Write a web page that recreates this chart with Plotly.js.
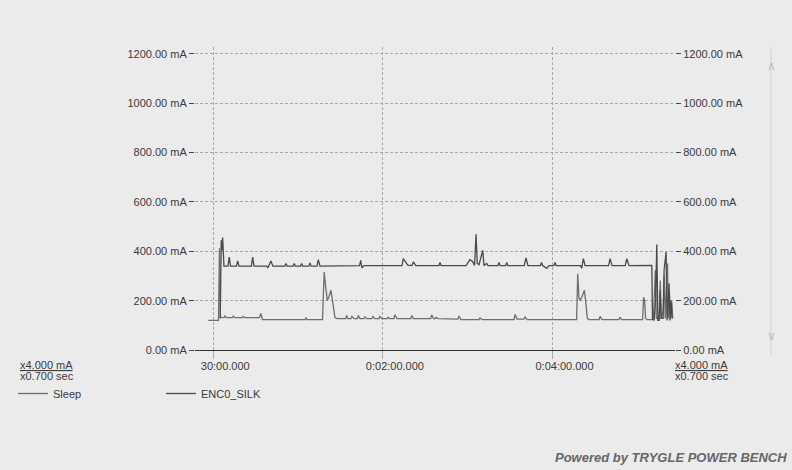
<!DOCTYPE html>
<html>
<head>
<meta charset="utf-8">
<script src="https://cdn.plot.ly/plotly-3.0.1.min.js"></script>
<style>
  html, body { margin: 0; padding: 0; background: #ebebeb; }
  #chart { width: 792px; height: 470px; }
</style>
</head>
<body>
<div id="chart"></div>
<script>
// ---- data (time in seconds, current in mA) ----
const silkTime = [4.95, 5.66, 6.16, 6.65, 7.57, 10.4, 11.3, 12.2, 16.4, 17.3, 18.2, 27.0, 27.9, 28.8, 37.8, 38.7, 40.8, 42.2,
  50.6, 51.4, 52.2, 56.5, 57.3, 58.1, 61.7, 62.5, 63.3, 67.6, 68.4, 69.2, 73.4, 74.3, 75.5, 89.6, 103.5, 104.3, 105.2, 106.6,
  133.5, 134.4, 136.3, 137.7, 140.6, 141.5, 143.4, 159.6, 160.4, 161.2, 178.8, 181.6, 183.4, 184.8, 185.9, 186.7, 188.0,
  190.6, 191.5, 193.4, 194.4, 201.3, 202.1, 202.9, 206.8, 207.6, 208.4, 220.0, 221.2, 222.6, 231.4, 232.2, 233.0, 235.9,
  237.5, 241.0, 241.8, 242.6, 259.8, 260.6, 261.8, 263.0, 279.6, 280.7, 282.1, 291.4, 292.5, 294.1, 310.2, 310.7, 311.8, 312.9,
  313.7, 314.5, 315.4, 316.1, 316.8, 318.2, 318.9, 320.3, 321.0, 321.7, 322.4, 323.1, 323.8, 324.5];
const silkMA = [128, 445, 404, 456, 340, 340, 377, 340, 340, 361, 340, 340, 377, 340, 340, 333, 361, 340,
  340, 351, 340, 340, 351, 340, 340, 351, 340, 340, 353, 340, 340, 366, 340, 342, 342, 363, 333, 342,
  342, 370, 351, 343, 343, 357, 342, 342, 355, 342, 342, 366, 359, 343, 469, 351, 346,
  404, 342, 351, 342, 342, 355, 342, 342, 355, 342, 342, 373, 342, 342, 355, 342, 331,
  342, 342, 355, 342, 342, 331, 370, 342, 342, 370, 342, 342, 370, 342, 343, 128, 120, 201,
  428, 120, 120, 242, 128, 128, 323, 397, 120, 201, 270, 120, 201, 128];

const sleepTime = [-3.5, 3.7, 4.4, 5.1, 7.6, 8.3, 9.3, 13.5, 14.2, 15.4, 20.5, 21.2, 22.4, 32.7, 33.7, 34.8,
  64.9, 65.6, 66.3, 77.3, 78.0, 78.5, 79.4, 80.7, 81.9, 83.3, 84.5, 86.1, 87.5,
  93.7, 94.4, 95.3, 97.4, 98.1, 99.5, 101.9, 102.6, 103.8, 106.6, 107.3, 108.7, 112.3, 113.0, 114.4,
  117.2, 117.9, 119.3, 122.9, 123.6, 125.0, 127.8, 128.5, 129.9, 139.7, 140.4, 141.6, 153.8, 154.5, 155.8,
  156.9, 157.6, 159.0, 173.1, 173.8, 175.2, 188.0, 188.7, 190.1, 212.8, 213.5, 214.9, 219.8, 220.5, 222.0,
  257.0, 257.8, 258.7, 259.4, 260.9, 262.5, 263.5, 264.6, 265.8, 272.9, 273.6, 275.0, 287.0, 287.7, 289.2,
  303.7, 304.4, 305.1, 305.8, 306.9, 311.3, 312.7, 313.4, 315.5, 316.2, 316.9, 318.3, 319.0, 319.7,
  321.3, 321.8, 322.7, 323.2, 324.4, 325.0];
const sleepMA = [120, 120, 412, 132, 131, 138, 131, 131, 137, 131, 131, 136, 131, 131, 148, 123,
  123, 132, 123, 123, 242, 316, 262, 201, 217, 242, 194, 131, 127,
  127, 140, 127, 127, 136, 127, 127, 140, 127, 127, 134, 127, 127, 136, 127,
  127, 136, 127, 127, 132, 127, 127, 143, 127, 127, 140, 127, 127, 142, 127,
  127, 132, 127, 125, 138, 123, 123, 130, 123, 123, 144, 125, 125, 134, 123,
  123, 309, 209, 201, 217, 242, 194, 127, 123, 123, 136, 123, 123, 131, 123,
  123, 214, 201, 128, 123, 123, 323, 128, 128, 282, 128, 160, 303, 128,
  351, 128, 229, 128, 193, 128];

const yTicks = [0, 200, 400, 600, 800, 1000, 1200];
const yTickText = ['0.00 mA', '200.00 mA', '400.00 mA', '600.00 mA', '800.00 mA', '1000.00 mA', '1200.00 mA'];
const xTickVals = [0, 120, 240];
const xTickText = ['30:00.000', '0:02:00.000', '0:04:00.000'];
const seriesNames = ['Sleep', 'ENC0_SILK'];

const FONT = 'Liberation Sans, Arial, sans-serif';
const TXT = '#3a3a3a';
const GRID = '#a8a8a8';

const traces = [
  { x: sleepTime, y: sleepMA, name: seriesNames[0], type: 'scatter', mode: 'lines',
    line: { color: '#6e6e6e', width: 1.3 }, xaxis: 'x', yaxis: 'y' },
  { x: silkTime, y: silkMA, name: seriesNames[1], type: 'scatter', mode: 'lines',
    line: { color: '#4a4a4a', width: 1.3 }, xaxis: 'x', yaxis: 'y' },
  { x: [0], y: [0], type: 'scatter', mode: 'markers', marker: { opacity: 0 },
    xaxis: 'x', yaxis: 'y2', showlegend: false, hoverinfo: 'skip' }
];

const yCommon = {
  range: [0, 1228], tickvals: yTicks, ticktext: yTickText,
  ticks: 'outside', ticklen: 5, tickcolor: '#444', tickwidth: 1,
  tickfont: { family: FONT, size: 11, color: TXT },
  zeroline: false, showline: false, fixedrange: true
};

const layout = {
  width: 792, height: 470,
  paper_bgcolor: '#ebebeb', plot_bgcolor: '#ebebeb',
  margin: { l: 195, r: 117, t: 47, b: 120, autoexpand: false },
  font: { family: FONT, size: 11, color: TXT },
  showlegend: true,
  legend: {
    orientation: 'h', x: -182/480, xanchor: 'left', y: -29/303, yanchor: 'top',
    xref: 'paper', yref: 'paper',
    entrywidth: 103, entrywidthmode: 'pixels', bgcolor: 'rgba(0,0,0,0)',
    font: { family: FONT, size: 11, color: TXT }
  },
  xaxis: {
    range: [-12.9, 326.6], tickvals: xTickVals, ticktext: xTickText,
    showgrid: true, gridcolor: GRID, griddash: '3px,2px', gridwidth: 1,
    ticks: 'outside', ticklen: 8, tickcolor: GRID, ticklabelshift: 12, ticklabelstandoff: -2,
    tickfont: { family: FONT, size: 11, color: TXT },
    showline: true, linecolor: '#333', linewidth: 1, zeroline: false, fixedrange: true
  },
  yaxis: Object.assign({}, yCommon, {
    side: 'left', showgrid: true, gridcolor: GRID, griddash: '3px,2px', gridwidth: 1
  }),
  yaxis2: Object.assign({}, yCommon, {
    side: 'right', overlaying: 'y', showgrid: false
  }),
  shapes: [
    { type: 'line', xref: 'paper', yref: 'paper', x0: 576/480, x1: 576/480, y0: -5/303, y1: 1.0,
      line: { color: '#d0d0d0', width: 1 } }
  ],
  annotations: [
    { xref: 'paper', yref: 'paper', x: 583/480, y: 1 - 10/303, text: '\u2227', showarrow: false,
      font: { family: 'DejaVu Sans', size: 12, color: '#bdbdbd' } },
    { xref: 'paper', yref: 'paper', x: 583/480, y: 5/303, text: '\u2228', showarrow: false,
      font: { family: 'DejaVu Sans', size: 12, color: '#bdbdbd' } },
    { xref: 'paper', yref: 'paper', x: -177/480, y: -15.5/303, xanchor: 'left', yanchor: 'middle',
      text: '<u>x4.000 mA</u>', showarrow: false, font: { family: FONT, size: 11, color: TXT } },
    { xref: 'paper', yref: 'paper', x: -177/480, y: -26/303, xanchor: 'left', yanchor: 'middle',
      text: 'x0.700 sec', showarrow: false, font: { family: FONT, size: 11, color: TXT } },
    { xref: 'paper', yref: 'paper', x: 478/480, y: -15.5/303, xanchor: 'left', yanchor: 'middle',
      text: '<u>x4.000 mA</u>', showarrow: false, font: { family: FONT, size: 11, color: TXT } },
    { xref: 'paper', yref: 'paper', x: 478/480, y: -26/303, xanchor: 'left', yanchor: 'middle',
      text: 'x0.700 sec', showarrow: false, font: { family: FONT, size: 11, color: TXT } },
    { xref: 'paper', yref: 'paper', x: 594/480, y: -108/303, xanchor: 'right', yanchor: 'middle',
      text: '<b><i>Powered by TRYGLE POWER BENCH</i></b>', showarrow: false,
      font: { family: 'Liberation Sans, Arial, sans-serif', size: 13, color: '#666' } }
  ]
};

Plotly.newPlot('chart', traces, layout, { staticPlot: true, displayModeBar: false });
</script>
</body>
</html>
